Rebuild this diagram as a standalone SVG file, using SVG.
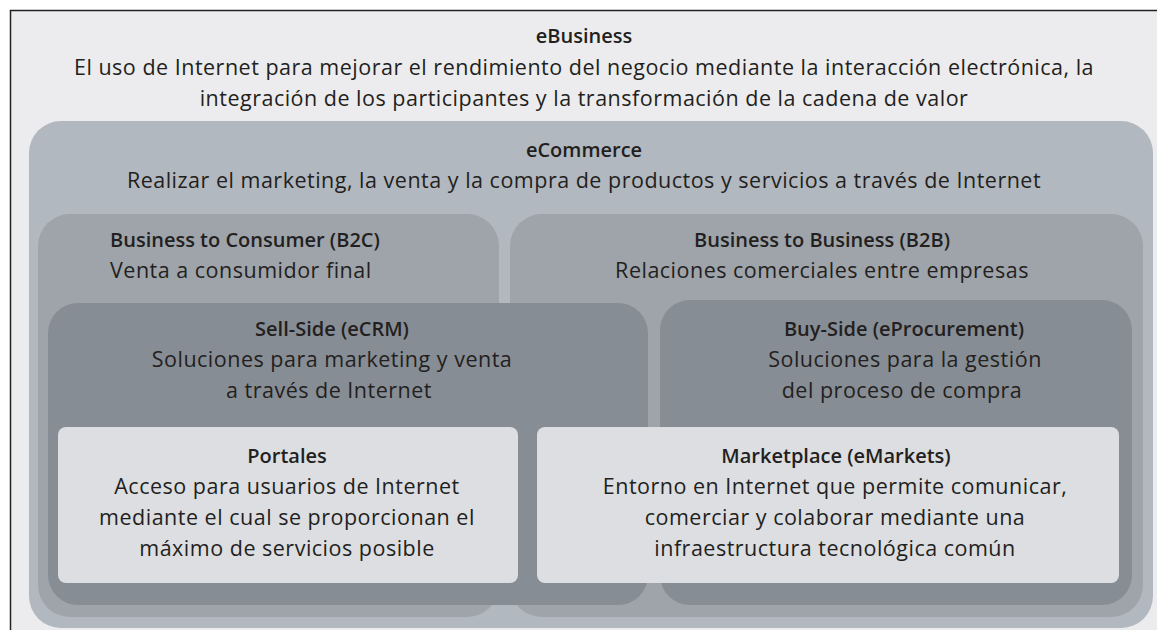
<svg xmlns="http://www.w3.org/2000/svg" width="1157" height="630" viewBox="0 0 1157 630">
<style>
text{font-family:"Open Sans","Noto Sans","DejaVu Sans",sans-serif;font-size:21.5px;letter-spacing:0.5px;fill:#231f20}
.t{font-weight:600;font-size:20px;letter-spacing:0px}
.c{text-anchor:middle}
.l1{fill:#b2b8bf}
.l2{fill:#9ea4aa}
.l3{fill:#878d94}
.l4{fill:#dcdee2}
</style>
<rect x="0" y="0" width="1157" height="630" fill="#ffffff"/>
<g id="ebusiness">
<rect x="11" y="11" width="1146" height="619" fill="#ececee"/>
<path d="M10.5,630 V10.5 H1157" fill="none" stroke="#222" stroke-width="1.5"/>
<text class="t c" x="584" y="43">eBusiness</text>
<text class="c" x="584" y="75">El uso de Internet para mejorar el rendimiento del negocio mediante la interacción electrónica, la</text>
<text class="c" x="584" y="106">integración de los participantes y la transformación de la cadena de valor</text>
</g>
<g id="ecommerce">
<rect class="l1" x="29" y="121" width="1124" height="507" rx="32"/>
<text class="t c" x="584" y="157">eCommerce</text>
<text class="c" x="584" y="188">Realizar el marketing, la venta y la compra de productos y servicios a través de Internet</text>
</g>
<g id="b2c">
<rect class="l2" x="38" y="214" width="461" height="403" rx="32"/>
<text class="t" x="110" y="247">Business to Consumer (B2C)</text>
<text x="110" y="278">Venta a consumidor final</text>
</g>
<g id="b2b">
<rect class="l2" x="510" y="214" width="633" height="403" rx="32"/>
<text class="t c" x="822" y="247">Business to Business (B2B)</text>
<text class="c" x="822" y="278">Relaciones comerciales entre empresas</text>
</g>
<g id="sellside">
<rect class="l3" x="48" y="303" width="600" height="302" rx="30"/>
<text class="t c" x="332" y="336">Sell-Side (eCRM)</text>
<text class="c" x="332" y="367">Soluciones para marketing y venta</text>
<text class="c" x="329" y="398">a través de Internet</text>
</g>
<g id="buyside">
<rect class="l3" x="660" y="300" width="472" height="305" rx="30"/>
<text class="t c" x="904" y="336">Buy-Side (eProcurement)</text>
<text class="c" x="905" y="367">Soluciones para la gestión</text>
<text class="c" x="902" y="398">del proceso de compra</text>
</g>
<g id="portales">
<rect class="l4" x="58" y="427" width="460" height="156" rx="8"/>
<text class="t c" x="287" y="463">Portales</text>
<text class="c" x="287" y="494">Acceso para usuarios de Internet</text>
<text class="c" x="287" y="525">mediante el cual se proporcionan el</text>
<text class="c" x="287" y="556">máximo de servicios posible</text>
</g>
<g id="marketplace">
<rect class="l4" x="537" y="427" width="582" height="156" rx="8"/>
<text class="t c" x="836" y="463">Marketplace (eMarkets)</text>
<text class="c" x="835" y="494">Entorno en Internet que permite comunicar,</text>
<text class="c" x="835" y="525">comerciar y colaborar mediante una</text>
<text class="c" x="835" y="556">infraestructura tecnológica común</text>
</g>
<g id="connectors"/>
</svg>
